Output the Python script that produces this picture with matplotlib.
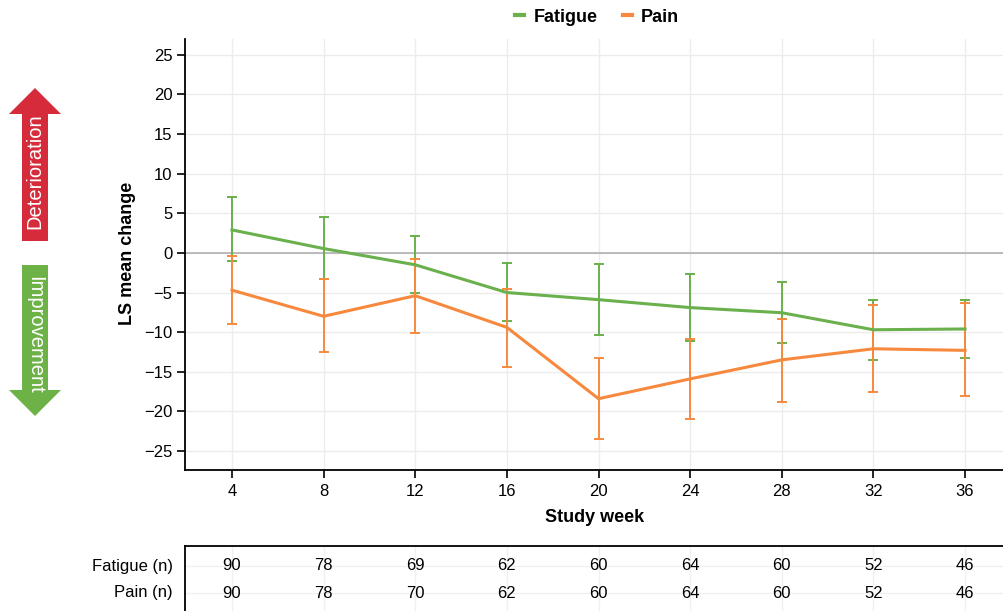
import matplotlib
matplotlib.use("Agg")
import matplotlib.pyplot as plt
from matplotlib.patches import Polygon
from matplotlib.lines import Line2D
import numpy as np

plt.rcParams['font.family'] = ['Liberation Sans', 'DejaVu Sans']

weeks = [4, 8, 12, 16, 20, 24, 28, 32, 36]
fatigue = [2.9, 0.55, -1.5, -5.0, -5.9, -6.9, -7.55, -9.7, -9.6]
fatigue_lo = [-1.0, -3.3, -5.0, -8.6, -10.4, -11.1, -11.4, -13.5, -13.3]
fatigue_hi = [7.0, 4.5, 2.1, -1.3, -1.4, -2.6, -3.7, -5.9, -6.0]
pain = [-4.7, -8.0, -5.4, -9.4, -18.4, -15.9, -13.5, -12.1, -12.3]
pain_lo = [-9.0, -12.5, -10.1, -14.4, -23.5, -20.9, -18.8, -17.6, -18.1]
pain_hi = [-0.4, -3.3, -0.8, -4.5, -13.3, -10.9, -8.4, -6.6, -6.3]
n_fatigue = [90, 78, 69, 62, 60, 64, 60, 52, 46]
n_pain = [90, 78, 70, 62, 60, 64, 60, 52, 46]
yticks = [25, 20, 15, 10, 5, 0, -5, -10, -15, -20, -25]

green = '#6AB04C'
orange = '#F7893E'

W, H = 1004, 611
fig = plt.figure(figsize=(W / 100, H / 100), dpi=100)

# main axes
ax = fig.add_axes([185 / W, 1 - 470 / H, 1 - 185 / W, 431 / H])
ax.set_xlim(1.95, 37.7)
ax.set_ylim(-27.4, 27.0)
ax.grid(True, color='#ececec', linewidth=1)
ax.set_axisbelow(True)
ax.axhline(0, color='#b0b0b0', linewidth=1.2, zorder=1)

for vals, lo, hi, col, lab in [(fatigue, fatigue_lo, fatigue_hi, green, 'Fatigue'),
                                (pain, pain_lo, pain_hi, orange, 'Pain')]:
    v = np.array(vals)
    err = [v - np.array(lo), np.array(hi) - v]
    ax.errorbar(weeks, v, yerr=err, color=col, linewidth=2.2, elinewidth=1.4,
                capsize=3.5, capthick=1.4, label=lab, zorder=3)

ax.set_xticks(weeks)
ax.set_yticks(yticks)
ax.set_yticklabels([str(t).replace('-', '\u2212') for t in yticks])
ax.tick_params(axis='both', length=6, width=1.2, labelsize=12, colors='black')
ax.tick_params(axis='y', pad=3)
ax.tick_params(axis='x', pad=4)
for s in ['right', 'top']:
    ax.spines[s].set_visible(False)
for s in ['left', 'bottom']:
    ax.spines[s].set_linewidth(1.3)
ax.set_xlabel('Study week', fontsize=13, fontweight='bold', labelpad=7)

fig.text(128 / W, 1 - 253 / H, 'LS mean change', rotation=90, ha='center', va='center',
         fontsize=13, fontweight='bold')

# legend
hl = [Line2D([], [], color=green, linewidth=3), Line2D([], [], color=orange, linewidth=3)]
fig.legend(hl, ['Fatigue', 'Pain'], loc='center', bbox_to_anchor=(597 / W, 1 - 17 / H),
           ncol=2, frameon=False, handlelength=0.5, handletextpad=0.5, columnspacing=1.4,
           prop={'weight': 'bold', 'size': 13})

# n table
tax = fig.add_axes([185 / W, 0, 1 - 185 / W, 65 / H])
tax.set_xlim(1.95, 37.7)
tax.set_ylim(0, 65)
tax.set_xticks(weeks)
tax.set_yticks([45, 18])
tax.grid(True, color='#f0f0f0', linewidth=1)
tax.tick_params(length=0, labelbottom=False, labelleft=False)
for s in ['right', 'bottom']:
    tax.spines[s].set_visible(False)
for s in ['left', 'top']:
    tax.spines[s].set_linewidth(1.3)
for w, nf, npn in zip(weeks, n_fatigue, n_pain):
    tax.text(w, 45, str(nf), ha='center', va='center', fontsize=12)
    tax.text(w, 18, str(npn), ha='center', va='center', fontsize=12)
tax.text(-0.015, 45, 'Fatigue (n)', transform=tax.get_yaxis_transform(), ha='right', va='center', fontsize=12)
tax.text(-0.015, 18, 'Pain (n)', transform=tax.get_yaxis_transform(), ha='right', va='center', fontsize=12)

# direction arrows
oax = fig.add_axes([0, 0, 1, 1], zorder=-1)
oax.set_xlim(0, W)
oax.set_ylim(H, 0)
oax.axis('off')
red_arrow = [(22, 241), (22, 114), (9, 114), (35, 88), (61, 114), (48, 114), (48, 241)]
green_arrow = [(22, 265), (22, 390), (9, 390), (35, 416), (61, 390), (48, 390), (48, 265)]
oax.add_patch(Polygon(red_arrow, closed=True, color='#D52B3A', linewidth=0))
oax.add_patch(Polygon(green_arrow, closed=True, color='#6DB246', linewidth=0))
oax.text(35, 171, 'Deterioration', rotation=90, ha='center', va='center', color='white', fontsize=14.5)
oax.text(35, 335, 'Improvement', rotation=-90, ha='center', va='center', color='white', fontsize=14.5)

fig.savefig('out.png', dpi=100)
